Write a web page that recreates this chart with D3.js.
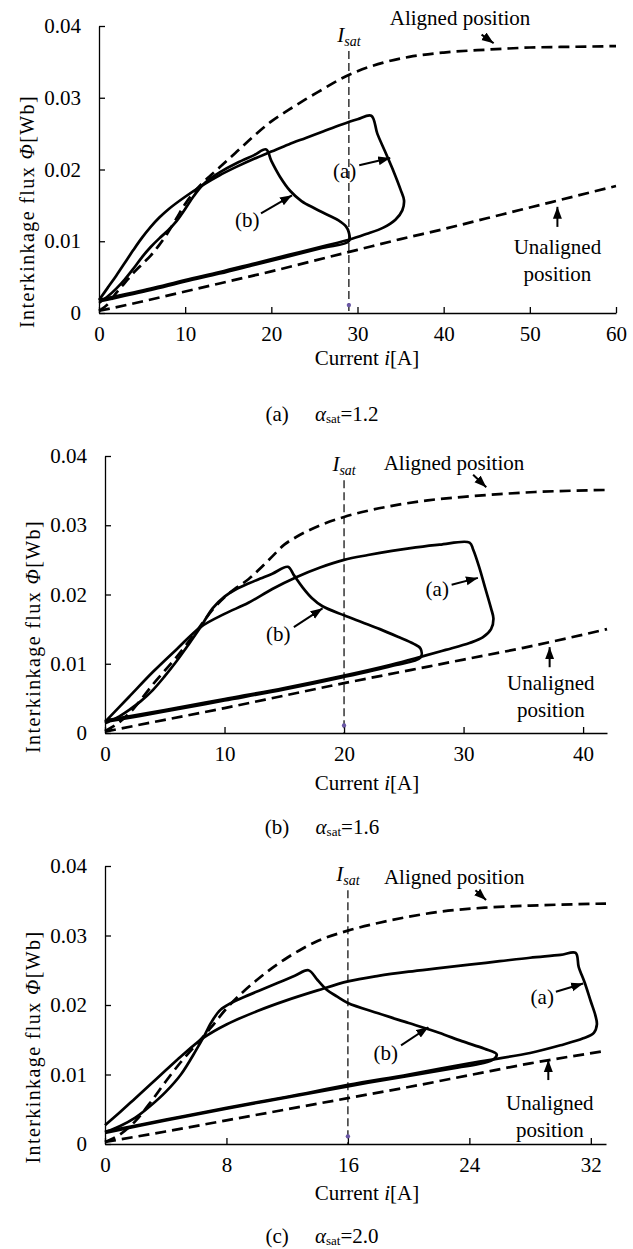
<!DOCTYPE html>
<meta charset="utf-8">
<style>
body { margin: 0; background: #fff; }
svg text { font-family: "Liberation Serif", Tinos, "DejaVu Serif", "Noto Serif", "Times New Roman", serif !important; fill: #000; }
.axis path, .axis line { stroke: #000; stroke-width: 1.3px; }
.loop { fill: none; stroke: #000; stroke-width: 2.7px; stroke-linejoin: round; }
.ref { fill: none; stroke: #000; stroke-width: 2.7px; stroke-dasharray: 11,6; }
.isat { stroke: #000; stroke-width: 1.2px; stroke-dasharray: 8,4; }
.arrow { stroke: #000; stroke-width: 2px; }
</style>
<svg width="633" height="1249"></svg>
<script src="https://cdn.jsdelivr.net/npm/d3@7"></script>
<script>

// ---- panel (a) alpha_sat = 1.2 ----
var ticksA = [0, 10, 20, 30, 40, 50, 60];
var alignedA = [[0,0.0003],[1,0.0012],[2,0.0028],[3,0.0042],[4,0.0056],[5,0.0068],[6,0.0080],[7,0.0095],[8,0.0112],[9,0.0132],[10,0.0152],[11,0.0168],[12,0.0181],[14,0.0203],[16,0.0225],[18,0.0247],[20,0.0267],[22,0.0283],[24,0.0298],[26,0.0312],[28,0.0326],[30,0.0337],[33,0.0349],[36,0.0357],[40,0.0363],[45,0.0367],[50,0.0370],[55,0.0371],[60,0.0372]];
var unalignedA = [[0,0.0003],[5,0.0016],[10,0.0030],[15,0.0044],[20,0.0058],[25,0.0073],[30,0.0088],[35,0.0103],[40,0.0117],[45,0.0132],[50,0.0147],[55,0.0162],[60,0.0177]];
var loopAa = [[0,0.0018],[1,0.0035],[2,0.0052],[3,0.0070],[4,0.0088],[5,0.0105],[6,0.0120],[7,0.0133],[8,0.0144],[10,0.0162],[12,0.0178],[14,0.0192],[16,0.0204],[18,0.0215],[20,0.0225],[22,0.0235],[24,0.0244],[26,0.0253],[28,0.0262],[30,0.0270],[31.6,0.0275],
  [32.3,0.0250],[33.2,0.0225],[34.2,0.0197],[35.0,0.0172],[35.4,0.0157],[35.2,0.0143],[34.4,0.0130],[33.0,0.0119],[31.0,0.0110],[29,0.0102],
  [26,0.0093],[22,0.0081],[18,0.0069],[14,0.0057],[10,0.0046],[6,0.0034],[3,0.0026],[0,0.0018]];
var loopBa = [[0,0.0014],[1,0.0023],[2,0.0034],[3,0.0047],[4,0.0062],[5,0.0078],[6,0.0092],[7,0.0104],[8,0.0115],[9,0.0128],[10,0.0145],[11,0.0163],[12,0.0178],[13,0.0188],[14,0.0196],[16,0.0209],[18,0.0220],[19.4,0.0228],
  [20.0,0.0212],[21.0,0.0190],[22.2,0.0170],[23.5,0.0156],[25.0,0.0146],[26.5,0.0137],[27.8,0.0129],[28.7,0.0120],[29.0,0.0112],[29.0,0.0100],
  [26,0.0091],[22,0.0079],[18,0.0067],[14,0.0055],[10,0.0044],[6,0.0032],[3,0.0024],[0,0.0016]];
var isatA = 29;

// ---- panel (b) alpha_sat = 1.6 ----
var ticksB = [0, 10, 20, 30, 40];
var alignedB = [[0,0.0003],[1,0.0013],[2,0.0028],[3,0.0048],[4,0.0070],[5,0.0090],[6,0.0110],[7,0.0132],[8,0.0155],[9,0.0178],[10,0.0196],[11,0.0210],[12,0.0222],[13,0.0238],[14,0.0255],[15,0.0272],[16,0.0283],[18,0.0300],[20,0.0312],[22,0.0321],[24,0.0328],[27,0.0336],[30,0.0341],[33,0.0345],[36,0.0348],[42,0.0351]];
var unalignedB = [[0,0.0002],[5,0.0019],[10,0.0036],[15,0.0054],[20,0.0072],[25,0.0089],[30,0.0106],[35,0.0123],[40,0.0142],[42,0.0150]];
var loopAb = [[0,0.0016],[2,0.0052],[4,0.0088],[6,0.0121],[8,0.0153],[10,0.0172],[12,0.0188],[14,0.0208],[16,0.0225],[18,0.0239],[20,0.0250],[22,0.0257],[24,0.0263],[26,0.0268],[28,0.0272],[30.5,0.0275],
  [30.8,0.0265],[31.3,0.0240],[31.8,0.0210],[32.3,0.0180],[32.5,0.0165],[32.3,0.0150],[31.6,0.0138],[30.5,0.0130],[28.5,0.0120],[26.4,0.0110],
  [24,0.0099],[20,0.0083],[15,0.0065],[10,0.0049],[5,0.0033],[0,0.0018]];
var loopBb = [[0,0.0014],[1,0.0022],[2,0.0033],[3,0.0046],[4,0.0062],[5,0.0082],[6,0.0104],[7,0.0128],[8,0.0153],[9,0.0180],[10,0.0197],[11,0.0208],[12,0.0216],[13,0.0223],[14,0.0230],[15.3,0.0240],
  [15.8,0.0228],[16.5,0.0211],[17.3,0.0195],[18.2,0.0183],[20,0.0170],[21.5,0.0160],[23,0.0150],[24.5,0.0139],[25.8,0.0129],[26.4,0.0122],[26.4,0.0109],
  [24,0.0097],[20,0.0081],[15,0.0063],[10,0.0047],[5,0.0031],[0,0.0016]];
var isatB = 20;

// ---- panel (c) alpha_sat = 2.0 ----
var ticksC = [0, 8, 16, 24, 32];
var alignedC = [[0,0.0003],[1,0.0014],[2,0.0033],[3,0.0060],[4,0.0090],[5,0.0118],[6,0.0143],[7,0.0168],[8,0.0195],[9,0.0217],[10,0.0236],[11,0.0253],[12,0.0268],[13,0.0281],[14,0.0292],[16,0.0307],[18,0.0318],[20,0.0327],[22,0.0334],[25,0.0340],[28,0.0343],[33,0.0346]];
var unalignedC = [[0,0.0003],[4,0.0018],[8,0.0034],[12,0.0050],[16,0.0066],[20,0.0082],[24,0.0099],[28,0.0116],[33,0.0134]];
var loopAc = [[0,0.0027],[1,0.0046],[2,0.0066],[3,0.0086],[4,0.0106],[5,0.0126],[6.5,0.0153],[8,0.0172],[10,0.0191],[12,0.0207],[14,0.0221],[16,0.0234],[18,0.0242],[20,0.0248],[22,0.0253],[24,0.0258],[26,0.0263],[28,0.0268],[30,0.0272],[31,0.0275],
  [31.2,0.0255],[31.6,0.0232],[32.0,0.0205],[32.3,0.0185],[32.4,0.0172],[32.2,0.0160],[31.5,0.0152],[30,0.0142],[28,0.0131],
  [24,0.0116],[20,0.0100],[16,0.0085],[12,0.0068],[8,0.0052],[4,0.0035],[0,0.0018]];
var loopBc = [[0,0.0017],[1,0.0026],[2,0.0038],[3,0.0055],[4,0.0075],[5,0.0100],[6,0.0135],[6.5,0.0154],[7,0.0175],[7.6,0.0193],[8.4,0.0204],[9.2,0.0212],[10.3,0.0222],[11.4,0.0232],[12.5,0.0242],[13.4,0.0250],
  [14.0,0.0236],[14.6,0.0222],[15.3,0.0212],[16,0.0203],[18,0.0188],[20,0.0174],[22,0.0160],[23.5,0.0148],[25,0.0137],[25.8,0.0129],[25.6,0.0122],[24.8,0.0116],[23.2,0.0110],
  [20,0.0098],[16,0.0083],[12,0.0067],[8,0.0051],[4,0.0034],[0,0.0016]];
var isatC = 16;

var fluxTicks = [0, 0.01, 0.02, 0.03, 0.04];
var captions = ["(a)", "(b)", "(c)"];
var alphaVals = ["1.2", "1.6", "2.0"];

var serif = '"Liberation Serif", Tinos, "DejaVu Serif", "Noto Serif", serif';
var fs = 21;
var svg = d3.select("svg");

svg.append("defs").append("marker")
    .attr("id", "head")
    .attr("viewBox", "0 -5 12 10")
    .attr("refX", 12)
    .attr("refY", 0)
    .attr("markerUnits", "userSpaceOnUse")
    .attr("markerWidth", 12)
    .attr("markerHeight", 10)
    .attr("orient", "auto")
  .append("path")
    .attr("d", "M0,-4.5L12,0L0,4.5Z")
    .attr("fill", "#000");

// layout of the three panels (pixels), annotations in data units
var panels = [
  {left: 99, right: 616, top: 26, bottom: 313, xMax: 60, ticks: ticksA, yLabX: 27, titleDy: 52, capDy: 108,
   aligned: alignedA, unaligned: unalignedA, loops: [loopAa, loopBa], isat: isatA,
   alignLab: [41.9, 0.0411], alignArr: [[44.4, 0.0388], [45.8, 0.0376]],
   aLab: [28.5, 0.0199], aArr: [[30.2, 0.0206], [33.8, 0.0216]],
   bLab: [17.2, 0.0130], bArr: [[18.8, 0.0139], [22.4, 0.0164]],
   unLab: [53.2, 0.0092], unArr: [[53.2, 0.0120], [53.2, 0.0148]]},
  {left: 105, right: 607, top: 456, bottom: 733, xMax: 42, ticks: ticksB, yLabX: 33, titleDy: 57, capDy: 101,
   aligned: alignedB, unaligned: unalignedB, loops: [loopAb, loopBb], isat: isatB,
   alignLab: [29.2, 0.0391], alignArr: [[30.8, 0.0373], [31.9, 0.0355]],
   aLab: [27.8, 0.0209], aArr: [[29.0, 0.0214], [31.2, 0.0224]],
   bLab: [14.5, 0.0144], bArr: [[15.8, 0.0153], [18.2, 0.0180]],
   unLab: [37.3, 0.0072], unArr: [[37.2, 0.0095], [37.2, 0.0124]]},
  {left: 105, right: 606, top: 866, bottom: 1144, xMax: 33, ticks: ticksC, yLabX: 33, titleDy: 56, capDy: 99,
   aligned: alignedC, unaligned: unalignedC, loops: [loopAc, loopBc], isat: isatC,
   alignLab: [23.0, 0.0384], alignArr: [[24.4, 0.0365], [25.1, 0.0351]],
   aLab: [28.8, 0.0212], aArr: [[29.7, 0.0219], [31.5, 0.0231]],
   bLab: [18.5, 0.0131], bArr: [[19.5, 0.0142], [21.3, 0.0168]],
   unLab: [29.3, 0.0060], unArr: [[29.2, 0.0092], [29.2, 0.0121]]}
];

panels.forEach(function(p, k) {
  var x = d3.scaleLinear().domain([0, p.xMax]).range([p.left, p.right]);
  var y = d3.scaleLinear().domain([0, 0.04]).range([p.bottom, p.top]);
  var g = svg.append("g");

  var line = d3.line()
      .x(function(d) { return x(d[0]); })
      .y(function(d) { return y(d[1]); })
      .curve(d3.curveCatmullRom.alpha(0.5));
  var smooth = d3.line()
      .x(function(d) { return x(d[0]); })
      .y(function(d) { return y(d[1]); })
      .curve(d3.curveMonotoneX);

  // axes
  var xa = g.append("g")
      .attr("class", "axis")
      .attr("transform", "translate(0," + p.bottom + ")")
      .call(d3.axisBottom(x).tickValues(p.ticks).tickSizeInner(-6).tickSizeOuter(0).tickPadding(13).tickFormat(d3.format("d")));
  var ya = g.append("g")
      .attr("class", "axis")
      .attr("transform", "translate(" + p.left + ",0)")
      .call(d3.axisLeft(y).tickValues(fluxTicks).tickSizeInner(-6).tickSizeOuter(0).tickPadding(18)
        .tickFormat(function(d) { return d === 0 ? "0" : d3.format(".2f")(d); }));
  xa.attr("font-family", serif).attr("font-size", fs);
  ya.attr("font-family", serif).attr("font-size", fs);

  // reference curves
  g.append("path").attr("class", "ref").attr("d", smooth(p.aligned));
  g.append("path").attr("class", "ref").attr("d", smooth(p.unaligned));

  // I_sat line
  g.append("line").attr("class", "isat")
      .attr("x1", x(p.isat)).attr("x2", x(p.isat))
      .attr("y1", y(0.0365)).attr("y2", p.bottom);
  g.append("circle")
      .attr("cx", x(p.isat)).attr("cy", y(0.0011)).attr("r", 2.2)
      .attr("fill", "#6b58a6");
  var it = g.append("text")
      .attr("x", x(p.isat)).attr("y", y(0.0365) - 9)
      .attr("text-anchor", "middle")
      .attr("font-family", serif)
      .style("font-size", fs + "px").style("font-style", "italic");
  it.append("tspan").text("I");
  it.append("tspan").attr("dy", 4).style("font-size", "14px").text("sat");

  // flux loops
  p.loops.forEach(function(l) {
    g.append("path").attr("class", "loop").attr("d", line(l));
  });

  // annotations
  function label(pos, txt, dyPx) {
    g.append("text")
        .attr("x", x(pos[0])).attr("y", y(pos[1]) + (dyPx || 0))
        .attr("dy", "0.35em")
        .attr("text-anchor", "middle")
        .attr("font-family", serif)
        .style("font-size", fs + "px")
        .text(txt);
  }
  function arrow(a) {
    g.append("line").attr("class", "arrow")
        .attr("x1", x(a[0][0])).attr("y1", y(a[0][1]))
        .attr("x2", x(a[1][0])).attr("y2", y(a[1][1]))
        .attr("marker-end", "url(#head)");
  }
  label(p.alignLab, "Aligned position");
  arrow(p.alignArr);
  label(p.aLab, "(a)");
  arrow(p.aArr);
  label(p.bLab, "(b)");
  arrow(p.bArr);
  label(p.unLab, "Unaligned");
  label(p.unLab, "position", 27);
  arrow(p.unArr);

  // axis titles
  var yl = g.append("text")
      .attr("transform", "translate(" + p.yLabX + "," + ((p.top + p.bottom) / 2 + 42) + ") rotate(-90)")
      .attr("dy", "0.35em")
      .attr("text-anchor", "middle")
      .attr("font-family", serif)
      .style("font-size", "20px")
      .style("letter-spacing", "1.4px");
  yl.append("tspan").text("Interkinkage  flux  ");
  yl.append("tspan").style("font-style", "italic").text("Φ");
  yl.append("tspan").text("[Wb]");

  var xl = g.append("text")
      .attr("x", 367).attr("y", p.bottom + p.titleDy)
      .attr("text-anchor", "middle")
      .attr("font-family", serif)
      .style("font-size", fs + "px");
  xl.append("tspan").text("Current ");
  xl.append("tspan").style("font-style", "italic").text("i");
  xl.append("tspan").text("[A]");

  var cap = g.append("text")
      .attr("x", 322).attr("y", p.bottom + p.capDy)
      .attr("text-anchor", "middle")
      .attr("font-family", serif)
      .style("font-size", fs + "px");
  cap.append("tspan").text(captions[k] + "\u2003 ");
  cap.append("tspan").style("font-style", "italic").text("α");
  cap.append("tspan").style("font-size", "13px").attr("dy", 2).text("sat");
  cap.append("tspan").attr("dy", -2).text("=" + alphaVals[k]);
});

</script>
